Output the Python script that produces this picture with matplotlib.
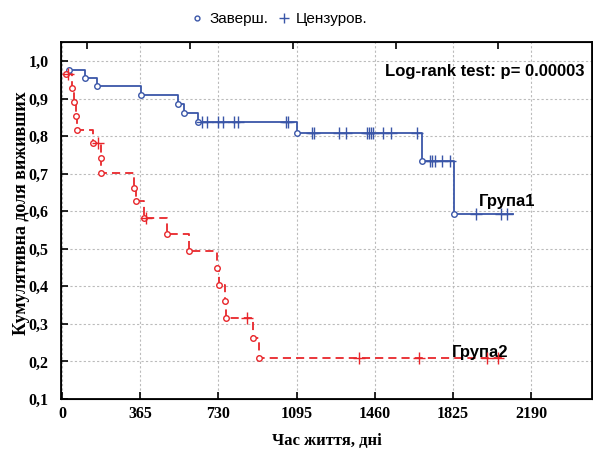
import numpy as np
import matplotlib.pyplot as plt
from matplotlib.lines import Line2D

# Група1 (blue): event times (days) and survival after each event
g1_times = [34, 106, 162, 369, 543, 571, 636, 1095, 1682, 1831]
g1_surv = [0.977, 0.956, 0.933, 0.909, 0.885, 0.861, 0.838, 0.809, 0.735, 0.592]
g1_end = 2107
g1_cens = [654, 675, 730, 753, 803, 823, 1046, 1056,
           1165, 1176, 1294, 1326, 1425, 1434, 1441, 1450, 1500, 1534, 1658,
           1718, 1729, 1741, 1772, 1811,
           1932, 2048, 2079]

# Група2 (red)
g2_times = [17, 48, 56, 64, 71, 146, 181, 182, 336, 347, 384, 488, 593,
            725, 731, 761, 766, 892, 920]
g2_surv = [0.965, 0.929, 0.892, 0.854, 0.816, 0.781, 0.742, 0.703, 0.663,
           0.627, 0.583, 0.540, 0.495, 0.448, 0.404, 0.361, 0.317, 0.262, 0.209]
g2_end = 2059
g2_cens = [30, 166, 390, 862, 1388, 1668, 1982, 2037]

x_ticks = [0, 365, 730, 1095, 1460, 1825, 2190]
y_ticks = [0.1, 0.2, 0.3, 0.4, 0.5, 0.6, 0.7, 0.8, 0.9, 1.0]
top_ticks = [117, 597, 1077, 1557, 2037]

blue = '#3a56a8'
red = '#e8262b'

plt.rcParams['font.family'] = ['Liberation Sans', 'DejaVu Sans']

fig = plt.figure(figsize=(5.93, 4.5), dpi=100)
ax = fig.add_axes([61 / 593, 1 - 399 / 450, 531 / 593, 357 / 450])


def surv_at(times, surv, t):
    i = np.searchsorted(times, t, side='right') - 1
    return np.array(surv)[i]


for times, surv, end, cens, col, ls in [
        (g1_times, g1_surv, g1_end, g1_cens, blue, '-'),
        (g2_times, g2_surv, g2_end, g2_cens, red, (0, (4.5, 2.8)))]:
    xs = list(times) + [end]
    ys = list(surv) + [surv[-1]]
    ax.plot(xs, ys, drawstyle='steps-post', color=col, lw=1.3, ls=ls, zorder=3)
    ax.plot(times, surv, 'o', ms=4, mfc='white', mec=col, mew=1.0, zorder=4)
    ax.plot(cens, surv_at(times, surv, cens), '+', ms=8, color=col, mew=1.0, zorder=4)

ax.set_xlim(-5, 2474)
ax.set_ylim(0.1, 1.0506)
ax.set_xticks(x_ticks)
ax.set_yticks(y_ticks)
ax.set_yticklabels([f"{v:.1f}".replace('.', ',') for v in y_ticks])
ax.tick_params(direction='in', length=5, width=1.2)
ax.tick_params(axis='x', pad=5)
ax.tick_params(axis='y', pad=9)
for lab in ax.get_xticklabels() + ax.get_yticklabels():
    lab.set_fontfamily('Liberation Serif')
    lab.set_fontweight('bold')
    lab.set_fontsize(11.5)
ax.grid(True, color='#bbbbbb', ls=(0, (2, 2)), lw=0.8)
for s in ax.spines.values():
    s.set_linewidth(1.3)

top = ax.twiny()
top.set_xlim(ax.get_xlim())
top.set_xticks(top_ticks)
top.set_xticklabels([])
top.tick_params(direction='in', length=5, width=1.2)

ax.set_xlabel('Час життя, дні', fontfamily='Liberation Serif', fontweight='bold',
              fontsize=12, labelpad=8)
ax.set_ylabel('Кумулятивна доля виживших', fontfamily='Liberation Serif',
              fontweight='bold', fontsize=13)
ax.yaxis.set_label_coords(-0.058, 0.52)

ax.text(2440, 0.971, 'Log-rank test: p= 0.00003', ha='right', va='center',
        fontsize=12, fontweight='bold')
ax.text(1945, 0.627, 'Група1', ha='left', va='center', fontsize=12, fontweight='bold')
ax.text(1820, 0.225, 'Група2', ha='left', va='center', fontsize=12, fontweight='bold')

handles = [Line2D([], [], ls='none', marker='o', ms=3.5, mfc='white', mec=blue),
           Line2D([], [], ls='none', marker='+', ms=7, color=blue)]
fig.legend(handles, ['Заверш.', 'Цензуров.'], loc='center', bbox_to_anchor=(0.471, 0.958),
           ncol=2, frameon=False, fontsize=11, handlelength=0.8, handletextpad=0.4,
           columnspacing=0.6)

fig.savefig('out.png', dpi=100)
